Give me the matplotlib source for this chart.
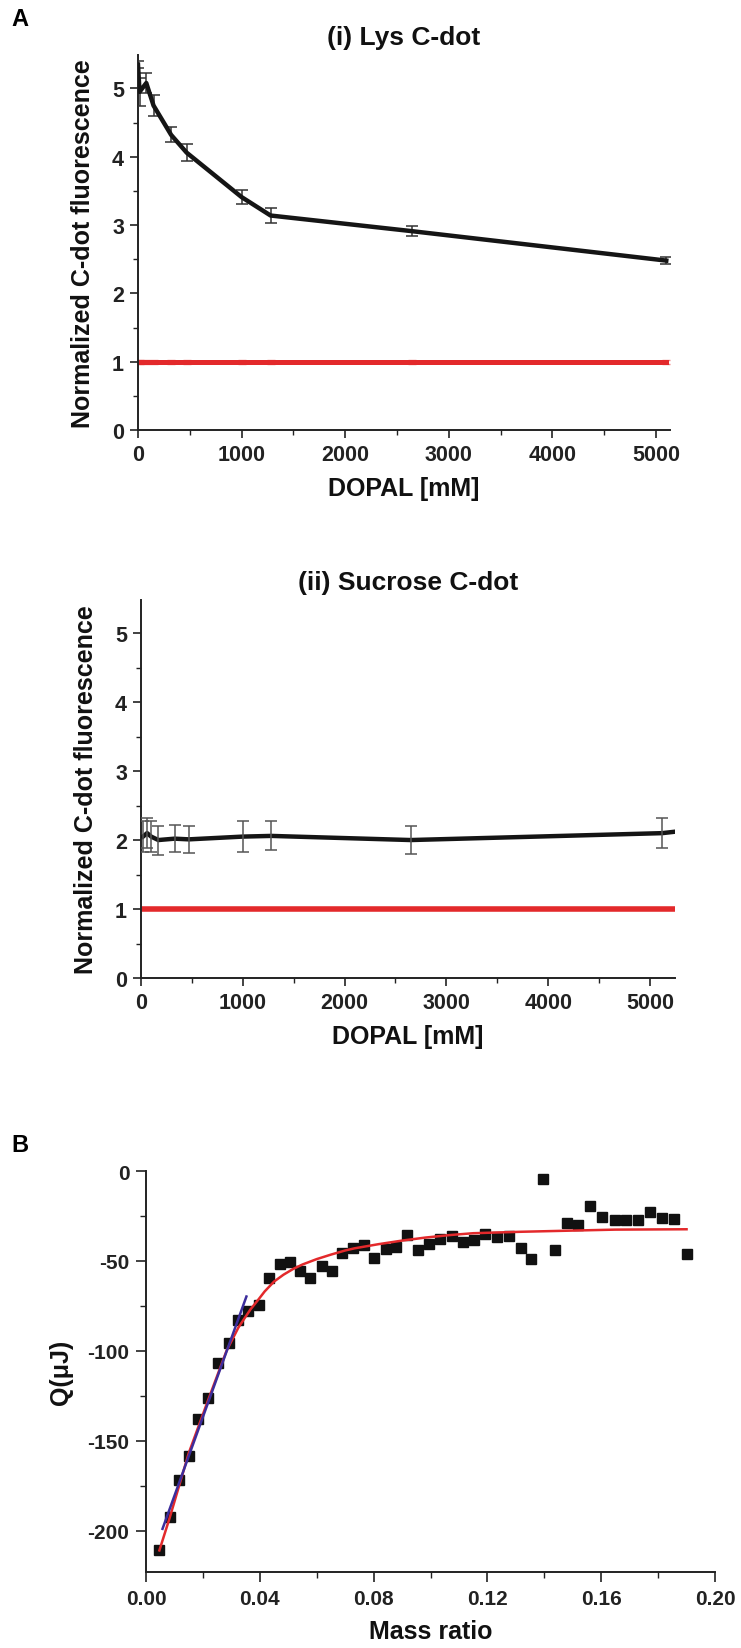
import matplotlib
matplotlib.use("Agg")
import matplotlib.pyplot as plt
from matplotlib.ticker import MultipleLocator, FormatStrFormatter

plt.rcParams['font.family'] = ['Liberation Sans', 'DejaVu Sans']
plt.rcParams['font.weight'] = 'bold'
plt.rcParams['axes.unicode_minus'] = False

# --- (i) Lys C-dot ---
lys_x = [0, 15, 80, 150, 320, 470, 1000, 1280, 2650, 5100]
lys_y = [5.35, 4.95, 5.08, 4.75, 4.32, 4.06, 3.41, 3.14, 2.91, 2.48]
lys_err = [0.05, 0.2, 0.15, 0.16, 0.11, 0.12, 0.1, 0.11, 0.07, 0.05]
lys_ctrl_y = [1.0] * len(lys_x)
lys_ctrl_err = [0.03] * len(lys_x)

# --- (ii) Sucrose C-dot ---
suc_x = [20, 60, 100, 170, 330, 470, 1000, 1280, 2650, 5120, 5240]
suc_y = [2.05, 2.1, 2.05, 2.0, 2.02, 2.01, 2.05, 2.06, 2.0, 2.1, 2.12]
suc_err = [0.22, 0.22, 0.22, 0.21, 0.2, 0.2, 0.22, 0.21, 0.2, 0.22]
suc_ctrl_x = [0, 5240]
suc_ctrl_y = [1.0, 1.0]

# --- B: ITC ---
mass_ratio = [0.0047, 0.0083, 0.0117, 0.015, 0.0183, 0.0217, 0.0253, 0.029, 0.0325,
              0.036, 0.0397, 0.0433, 0.047, 0.0507, 0.054, 0.0578, 0.0617, 0.0653,
              0.069, 0.0727, 0.0767, 0.0803, 0.0842, 0.088, 0.0917, 0.0955, 0.0995,
              0.1033, 0.1075, 0.1113, 0.1153, 0.1192, 0.1233, 0.1275, 0.1317, 0.1353,
              0.1397, 0.1438, 0.148, 0.152, 0.1562, 0.1603, 0.1647, 0.1687, 0.1728,
              0.1773, 0.1813, 0.1857, 0.19]
heat = [-211, -192.6, -171.6, -158.4, -137.8, -126, -107, -95.4, -82.7,
        -77.8, -74.7, -59.6, -51.8, -50.8, -55.7, -59.6, -52.8, -55.7,
        -45.4, -43, -41, -48.3, -43.6, -42, -35.8, -44, -40.5,
        -37.7, -36.2, -39.7, -38.1, -35.2, -36.6, -36.2, -43, -48.9,
        -4.5, -44, -28.7, -30.3, -19.2, -25.4, -27, -27, -27.4,
        -22.9, -26.4, -26.8, -46.3]
fit_x = [0.0047, 0.0083, 0.015, 0.0217, 0.0283, 0.0325, 0.0367, 0.0395, 0.0417,
         0.045, 0.0483, 0.0517, 0.055, 0.06, 0.065, 0.07, 0.0733, 0.0817, 0.09,
         0.0983, 0.107, 0.115, 0.1317, 0.1483, 0.165, 0.19]
fit_y = [-211, -193, -157, -128, -100, -87, -77, -71.5, -67,
         -61.5, -57.7, -54.5, -52, -49, -46.5, -44.2, -43, -40.7, -38.7,
         -37, -35.6, -34.6, -33.8, -33.2, -32.6, -32.4]
lin_x = [0.0058, 0.0353]
lin_y = [-199, -69.8]

W, H = 741, 1649
fig = plt.figure(figsize=(W / 100, H / 100), dpi=100)

tick_col = '#222222'
red = '#e3292b'


def style_axes(ax, major_len, minor_len, pad, size):
    for s in ['top', 'right']:
        ax.spines[s].set_visible(False)
    for s in ['left', 'bottom']:
        ax.spines[s].set_linewidth(1.4)
        ax.spines[s].set_color(tick_col)
    ax.tick_params(which='major', direction='out', length=major_len, width=1.2,
                   color=tick_col, labelcolor=tick_col, labelsize=size, pad=pad)
    ax.tick_params(which='minor', direction='out', length=minor_len, width=1.0,
                   color=tick_col)
    for lab in ax.get_xticklabels() + ax.get_yticklabels():
        lab.set_fontweight('bold')


def frac(left, top, right, bottom):
    return [left / W, 1 - bottom / H, (right - left) / W, (bottom - top) / H]


# Panel A (i)
ax1 = fig.add_axes(frac(138, 56, 670, 431))
ax1.errorbar(lys_x, lys_ctrl_y, yerr=lys_ctrl_err, color=red, lw=3.6,
             ecolor='#ee8888', elinewidth=1, capsize=3, zorder=2)
ax1.errorbar(lys_x, lys_y, yerr=lys_err, color='#151515', lw=3.2,
             ecolor='#333333', elinewidth=1.1, capsize=4, capthick=1.1, zorder=3)
ax1.set_xlim(0, 5136)
ax1.set_ylim(0, 5.49)
ax1.xaxis.set_major_locator(MultipleLocator(1000))
ax1.xaxis.set_minor_locator(MultipleLocator(500))
ax1.yaxis.set_major_locator(MultipleLocator(1))
ax1.yaxis.set_minor_locator(MultipleLocator(0.5))
style_axes(ax1, 6, 3.5, 4, 15.5)
ax1.set_xlabel('DOPAL [mM]', fontsize=18, fontweight='bold', labelpad=8, color='#111111')
ax1.set_ylabel('Normalized C-dot fluorescence', fontsize=18, fontweight='bold',
               labelpad=12, color='#111111')
ax1.set_title('(i) Lys C-dot', fontsize=19, fontweight='bold', pad=8, color='#111111')

# Panel A (ii)
ax2 = fig.add_axes(frac(141, 601, 675, 979))
ax2.plot(suc_ctrl_x, suc_ctrl_y, color=red, lw=4, zorder=2)
ax2.plot(suc_x, suc_y, color='#151515', lw=3.2, zorder=3)
ax2.errorbar(suc_x[:-1], suc_y[:-1], yerr=suc_err, fmt='none', ecolor='#555555',
             elinewidth=1.1, capsize=4, capthick=1.1, zorder=3)
ax2.set_xlim(0, 5246)
ax2.set_ylim(0, 5.48)
ax2.xaxis.set_major_locator(MultipleLocator(1000))
ax2.xaxis.set_minor_locator(MultipleLocator(500))
ax2.yaxis.set_major_locator(MultipleLocator(1))
ax2.yaxis.set_minor_locator(MultipleLocator(0.5))
style_axes(ax2, 6, 3.5, 4, 15.5)
ax2.set_xlabel('DOPAL [mM]', fontsize=18, fontweight='bold', labelpad=8, color='#111111')
ax2.set_ylabel('Normalized C-dot fluorescence', fontsize=18, fontweight='bold',
               labelpad=12, color='#111111')
ax2.set_title('(ii) Sucrose C-dot', fontsize=19, fontweight='bold', pad=8, color='#111111')

# Panel B
ax3 = fig.add_axes(frac(146, 1172, 715, 1573))
ax3.plot(mass_ratio, heat, 's', color='#111111', markersize=6.5, zorder=2)
ax3.plot(fit_x, fit_y, color=red, lw=1.8, zorder=3)
ax3.plot(lin_x, lin_y, color='#3c2d9c', lw=1.8, zorder=4)
ax3.set_xlim(0, 0.2)
ax3.set_ylim(-223, 0)
ax3.xaxis.set_major_locator(MultipleLocator(0.04))
ax3.xaxis.set_minor_locator(MultipleLocator(0.02))
ax3.yaxis.set_major_locator(MultipleLocator(50))
ax3.yaxis.set_minor_locator(MultipleLocator(25))
ax3.xaxis.set_major_formatter(FormatStrFormatter('%.2f'))
style_axes(ax3, 7, 4, 5, 15)
ax3.set_xlabel('Mass ratio', fontsize=18, fontweight='bold', labelpad=8, color='#111111')
ax3.set_ylabel('Q(μJ)', fontsize=18, fontweight='bold', labelpad=10, color='#111111')

fig.text(11 / W, 1 - 19 / H, 'A', fontsize=17, fontweight='bold', ha='left', va='center')
fig.text(11 / W, 1 - 1146 / H, 'B', fontsize=17, fontweight='bold', ha='left', va='center')

fig.savefig('out.png', dpi=100, facecolor='white')
